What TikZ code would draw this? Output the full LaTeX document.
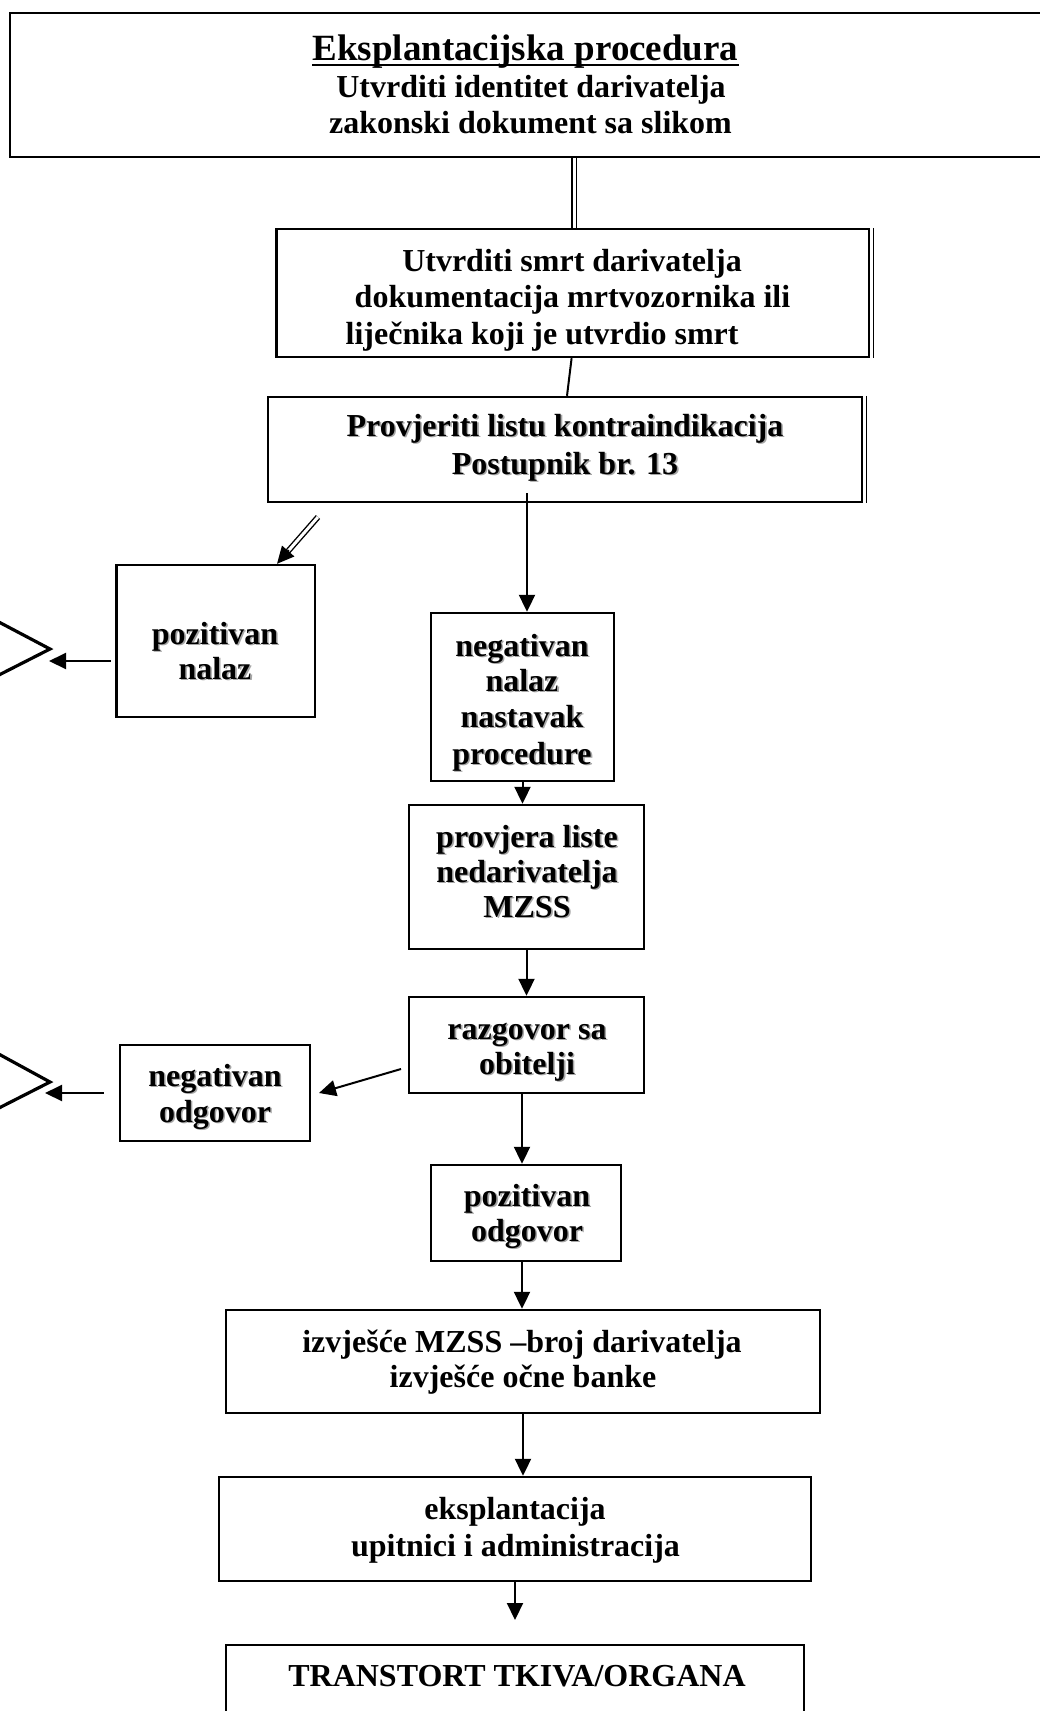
\documentclass[tikz,border=0pt]{standalone}
\usepackage{fontspec}
\setmainfont{Liberation Serif}
\usetikzlibrary{arrows.meta,calc}
\newcommand\shd[1]{\leavevmode\rlap{\kern1.6pt\raisebox{-1.6pt}{\color{black!35}#1}}#1}
\begin{document}
\begin{tikzpicture}[x=1pt,y=-1pt,
  box/.style={draw, line width=2.4pt, rectangle, inner sep=0pt},
  txt/.style={inner sep=0pt, anchor=base, font=\fontsize{32}{36}\selectfont\bfseries},
  ttl/.style={inner sep=0pt, anchor=base, font=\fontsize{37}{40}\selectfont\bfseries},
  arr/.style={line width=2pt, -{Triangle[length=17pt,width=16pt]}},
  con/.style={line width=2pt},
  dbl/.style={double, double distance=3pt, line width=1.4pt},
  chev/.style={line width=3.2pt, line join=miter}]
\useasboundingbox (0,0) rectangle (1040,1711);
% boxes
\node[box, minimum width=1050pt, minimum height=144pt] (top) at (535,85) {};
\node[box, minimum width=592.5pt, minimum height=128pt] (b2) at (572.75,293) {};
\node[box, minimum width=594pt, minimum height=105pt] (b3) at (565,449.5) {};
\node[box, minimum width=198.5pt, minimum height=152pt] (bp) at (215.75,641) {};
\node[box, minimum width=183pt, minimum height=168pt] (b4) at (522.5,697) {};
\node[box, minimum width=235pt, minimum height=144pt] (b5) at (526.5,877) {};
\node[box, minimum width=235pt, minimum height=96pt] (b6) at (526.5,1045) {};
\node[box, minimum width=190pt, minimum height=96pt] (bn) at (215,1093) {};
\node[box, minimum width=190pt, minimum height=96pt] (b7) at (526,1213) {};
\node[box, minimum width=594pt, minimum height=103pt] (b8) at (523,1361.5) {};
\node[box, minimum width=592pt, minimum height=104pt] (b9) at (515,1529) {};
\node[box, minimum width=578pt, minimum height=115pt] (b10) at (515,1702.5) {};
% doubled right edges
\draw[line width=1.4pt] ([xshift=3.5pt]b2.north east) -- ([xshift=3.5pt]b2.south east);
\draw[line width=1.4pt] ([xshift=3.5pt]b3.north east) -- ([xshift=3.5pt]b3.south east);
% texts
\node[ttl] (t1) at (525.5,60) {Eksplantacijska procedura};
\draw[line width=2.4pt] ([yshift=-5pt]t1.base west) -- ([yshift=-5pt]t1.base east);
\node[txt] (t2) at (531,97) {Utvrditi identitet darivatelja};
\node[txt] (t3) at (530.5,133) {zakonski dokument sa slikom};
\node[txt] (s1) at (572,271) {Utvrditi smrt darivatelja};
\node[txt] (s2) at (572.5,307) {dokumentacija mrtvozornika ili};
\node[txt, anchor=base west] (s3) at (345.5,344) {liječnika koji je utvrdio smrt};
\node[txt] (k1) at (565,436) {\shd{Provjeriti listu kontraindikacija}};
\node[txt] (k2) at (565,474) {\shd{Postupnik br. 13}};
\node[txt] (p1) at (215,644) {\shd{pozitivan}};
\node[txt] (p2) at (215,679) {\shd{nalaz}};
\node[txt] (n1) at (522,656) {\shd{negativan}};
\node[txt] (n2) at (522,691) {\shd{nalaz}};
\node[txt] (n3) at (522,727) {\shd{nastavak}};
\node[txt] (n4) at (522,764) {\shd{procedure}};
\node[txt] (m1) at (527,847) {\shd{provjera liste}};
\node[txt] (m2) at (527,882) {\shd{nedarivatelja}};
\node[txt] (m3) at (527,917) {\shd{MZSS}};
\node[txt] (r1) at (527,1039) {\shd{razgovor sa}};
\node[txt] (r2) at (527,1074) {\shd{obitelji}};
\node[txt] (o1) at (215,1086) {\shd{negativan}};
\node[txt] (o2) at (215,1122) {\shd{odgovor}};
\node[txt] (q1) at (527,1206) {\shd{pozitivan}};
\node[txt] (q2) at (527,1241) {\shd{odgovor}};
\node[txt] (i1) at (522,1352) {izvješće MZSS –broj darivatelja};
\node[txt] (i2) at (523,1387) {izvješće očne banke};
\node[txt] (e1) at (515,1519) {eksplantacija};
\node[txt] (e2) at (515.5,1556) {upitnici i administracija};
\node[txt] (tr) at (517,1686) {TRANSTORT TKIVA/ORGANA};
% chevrons
\coordinate (c1a) at (-5,620);
\coordinate (c1) at (50,649);
\coordinate (c1b) at (-5,677);
\draw[chev] (c1a) -- (c1) -- (c1b);
\coordinate (c2a) at (-5,1052);
\coordinate (c2) at (50,1082);
\coordinate (c2b) at (-5,1110);
\draw[chev] (c2a) -- (c2) -- (c2b);
% connectors
\draw[dbl] (top.south -| 574,0) -- (b2.north -| 574,0);
\draw[con] (b2.south -| 571.6,0) -- (b3.north -| 567,0);
\coordinate (k3s) at (527,493);
\draw[arr] (k3s) -- (k3s |- b4.north);
\coordinate (dps) at (318,517);
\coordinate (dpe) at (bp.north -| 277,0);
\draw[dbl] (dps) -- ($(dpe)!16pt!(dps)$);
\draw[arr] ($(dpe)!18pt!(dps)$) -- (dpe);
\coordinate (a1e) at (49,661);
\draw[arr] ([xshift=-4.5pt]bp.west |- a1e) -- (a1e);
\draw[arr] (b4.south) -- (b4.south |- b5.north);
\draw[arr] (b5.south) -- (b5.south |- b6.north);
\coordinate (a2s) at (401,1069);
\coordinate (a2e) at (319,1093);
\draw[arr] (a2s) -- (a2e);
\coordinate (a3e) at (45,1093);
\draw[arr] ([xshift=-15pt]bn.west |- a3e) -- (a3e);
\draw[arr] (b6.south -| 522,0) -- (b7.north -| 522,0);
\draw[arr] (b7.south -| 522,0) -- (b8.north -| 522,0);
\draw[arr] (b8.south) -- (b8.south |- b9.north);
\coordinate (a4e) at (515,1620);
\draw[arr] (b9.south) -- (a4e);
\end{tikzpicture}
\end{document}
